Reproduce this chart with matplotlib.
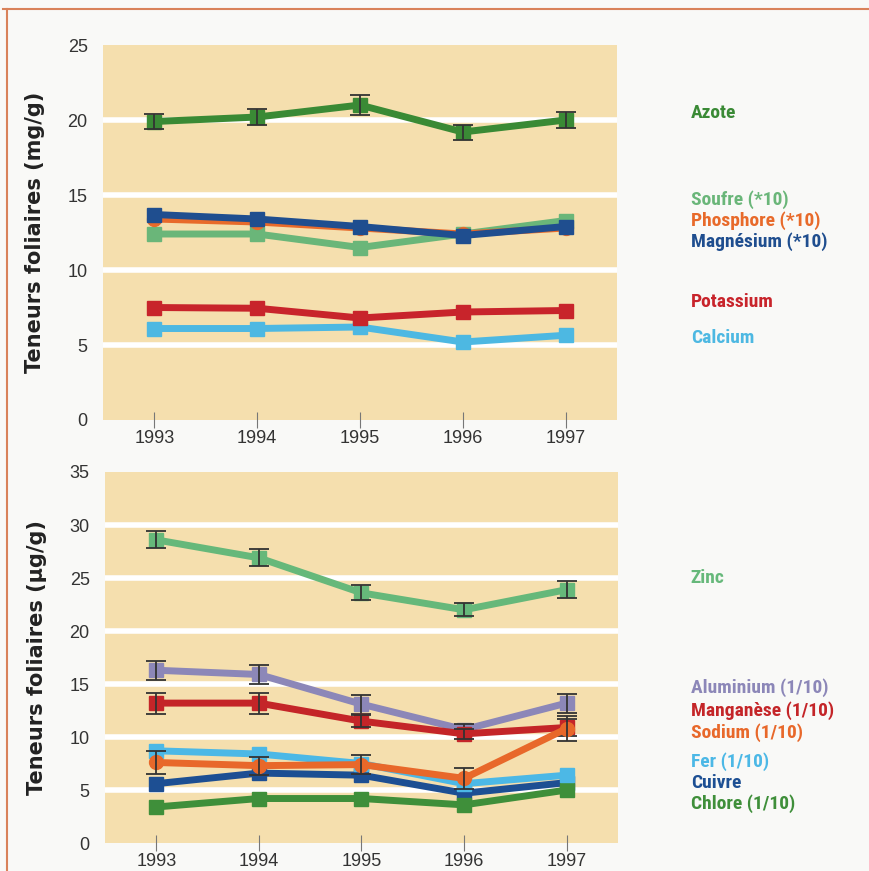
import numpy as np
import matplotlib
matplotlib.use('Agg')
import matplotlib.pyplot as plt
from matplotlib.lines import Line2D
import matplotlib.transforms as mtransforms

years = [1993, 1994, 1995, 1996, 1997]

# macro elements (mg/g)
top_names = ['Azote', 'Soufre (*10)', 'Phosphore (*10)', 'Magnésium (*10)', 'Potassium', 'Calcium']
azote = [19.9, 20.2, 21.0, 19.2, 20.0]
azote_err = [0.5, 0.55, 0.65, 0.5, 0.55]
soufre = [12.4, 12.4, 11.5, 12.4, 13.3]
phosphore = [13.4, 13.2, 12.8, 12.4, 12.8]
magnesium = [13.7, 13.4, 12.9, 12.3, 12.9]
potassium = [7.5, 7.45, 6.8, 7.2, 7.3]
calcium = [6.1, 6.1, 6.2, 5.2, 5.65]
top_label_y = [20.5, 14.7, 13.3, 11.9, 7.9, 5.5]

# oligo elements (ug/g)
bot_names = ['Zinc', 'Aluminium (1/10)', 'Manganèse (1/10)', 'Sodium (1/10)', 'Fer (1/10)', 'Cuivre', 'Chlore (1/10)']
zinc = [28.6, 26.9, 23.6, 22.0, 23.9]
zinc_err = [0.8, 0.8, 0.7, 0.6, 0.8]
aluminium = [16.3, 15.9, 13.1, 10.7, 13.2]
aluminium_err = [0.9, 0.9, 0.9, 0.5, 0.9]
manganese = [13.2, 13.2, 11.5, 10.3, 10.9]
manganese_err = [1.0, 1.0, 0.6, 0.5, 0.8]
sodium = [7.6, 7.3, 7.4, 6.1, 10.8]
sodium_err = [1.1, 0.85, 0.9, 1.0, 1.2]
fer = [8.7, 8.4, 7.5, 5.6, 6.4]
cuivre = [5.6, 6.6, 6.4, 4.7, 5.7]
chlore = [3.4, 4.2, 4.2, 3.6, 5.0]
bot_label_y = [25.0, 14.7, 12.5, 10.4, 7.7, 5.7, 3.7]

BG = '#f5dfae'
FIGBG = '#f9f9f7'
LBLFONT = ['Roboto Condensed', 'Roboto', 'DejaVu Sans']

plt.rcParams['font.family'] = ['Liberation Sans', 'DejaVu Sans']

fig = plt.figure(figsize=(8.69, 8.71), dpi=100, facecolor=FIGBG)
ax1 = fig.add_axes([0.1185, 0.5178, 0.5915, 0.4305])
ax2 = fig.add_axes([0.1208, 0.0321, 0.5903, 0.426])


def style(ax, ymax, label):
    ax.set_facecolor(BG)
    ax.set_xlim(1992.5, 1997.5)
    ax.set_ylim(0, ymax)
    for s in ax.spines.values():
        s.set_visible(False)
    ax.set_yticks(np.arange(0, ymax + 1, 5))
    ax.set_xticks(years)
    for v in np.arange(5, ymax, 5):
        ax.axhline(v, color='white', lw=4, zorder=1)
    ax.tick_params(axis='x', direction='inout', length=11, width=0.8, color='#777777',
                   labelsize=13, labelcolor='#333333', pad=2)
    ax.tick_params(axis='y', length=0, labelsize=13, labelcolor='#333333', pad=11)
    ax.set_ylabel(label, fontsize=15, fontweight='bold', color='#222222',
                  family=['DejaVu Sans'], labelpad=16)


def series(ax, y, color, marker='s', err=None, z=3):
    ax.plot(years, y, color=color, lw=5, marker=marker, ms=10, zorder=z,
            solid_joinstyle='miter')
    if err is not None:
        ax.errorbar(years, y, yerr=err, fmt='none', ecolor='#333333', elinewidth=1.3,
                    capsize=7, capthick=1.3, zorder=z + 0.5)


style(ax1, 25, 'Teneurs foliaires (mg/g)')
style(ax2, 35, 'Teneurs foliaires (µg/g)')

top_colors = ['#3a8a35', '#6ab679', '#e86a2a', '#1f4e8f', '#c8242b', '#4db8e2']
series(ax1, azote, top_colors[0], err=azote_err, z=6)
series(ax1, soufre, top_colors[1], z=3)
series(ax1, phosphore, top_colors[2], marker='o', z=4)
series(ax1, magnesium, top_colors[3], z=5)
series(ax1, calcium, top_colors[5], z=3)
series(ax1, potassium, top_colors[4], z=4)

bot_colors = ['#66b87a', '#8c87b8', '#c42528', '#e8682a', '#4cb8e6', '#1d4f93', '#3f8f3a']
series(ax2, zinc, bot_colors[0], err=zinc_err, z=3)
series(ax2, aluminium, bot_colors[1], err=aluminium_err, z=3)
series(ax2, manganese, bot_colors[2], err=manganese_err, z=4)
series(ax2, cuivre, bot_colors[5], z=3)
series(ax2, fer, bot_colors[4], z=4)
series(ax2, sodium, bot_colors[3], marker='o', err=sodium_err, z=5)
series(ax2, chlore, bot_colors[6], z=3)

for ax, names, cols, ly, xf in [(ax1, top_names, top_colors, top_label_y, 1.144),
                                (ax2, bot_names, bot_colors, bot_label_y, 1.142)]:
    tr = mtransforms.blended_transform_factory(ax.transAxes, ax.transData)
    for n, c, yy in zip(names, cols, ly):
        ax.text(xf, yy, n, transform=tr, color=c, fontsize=14, fontweight='bold',
                family=LBLFONT, va='center', ha='left', clip_on=False)

# orange frame (top and left)
fig.add_artist(Line2D([0.004, 1.0], [0.9897, 0.9897], color='#d9825a', lw=1.5,
                      transform=fig.transFigure))
fig.add_artist(Line2D([0.008, 0.008], [0.0, 0.9897], color='#d9825a', lw=1.5,
                      transform=fig.transFigure))

fig.savefig('out.png', dpi=100, facecolor=FIGBG)
